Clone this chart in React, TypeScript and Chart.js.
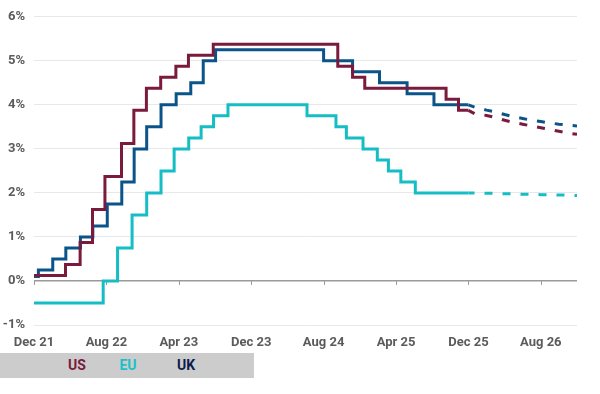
import React, { useEffect, useRef } from "react";
import { Chart, registerables } from "chart.js";

Chart.register(...registerables);

// ---- Data ----
const usDates = ["2021-12-01","2022-03-16","2022-05-04","2022-06-15","2022-07-27","2022-09-21","2022-11-02","2022-12-14","2023-02-01","2023-03-22","2023-05-03","2023-07-26","2024-09-18","2024-11-07","2024-12-18","2025-09-17","2025-10-29","2025-12-01"];
const usRates = [0.125,0.375,0.875,1.625,2.375,3.125,3.875,4.375,4.625,4.875,5.125,5.375,4.875,4.625,4.375,4.125,3.875,3.875];

const euDates = ["2021-12-01","2022-07-21","2022-09-08","2022-10-27","2022-12-15","2023-02-02","2023-03-16","2023-05-04","2023-06-15","2023-07-27","2023-09-14","2024-06-06","2024-09-12","2024-10-17","2024-12-12","2025-01-30","2025-03-06","2025-04-17","2025-06-05","2025-12-01"];
const euRates = [-0.5,0,0.75,1.5,2.0,2.5,3.0,3.25,3.5,3.75,4.0,3.75,3.5,3.25,3.0,2.75,2.5,2.25,2.0,2.0];

const ukDates = ["2021-12-01","2021-12-16","2022-02-03","2022-03-17","2022-05-05","2022-06-16","2022-08-04","2022-09-22","2022-11-03","2022-12-15","2023-02-02","2023-03-23","2023-05-11","2023-06-22","2023-08-03","2024-08-01","2024-11-07","2025-02-06","2025-05-08","2025-08-07","2025-12-01"];
const ukRates = [0.1,0.25,0.5,0.75,1.0,1.25,1.75,2.25,3.0,3.5,4.0,4.25,4.5,5.0,5.25,5.0,4.75,4.5,4.25,4.0,4.0];

// Market-implied forward paths
const fwdDates = ["2025-12-01","2025-12-22","2026-02-01","2026-03-01","2026-04-01","2026-05-01","2026-06-01","2026-07-01","2026-08-01","2026-09-01","2026-10-01","2026-11-01","2026-12-01"];
const usFwd = [3.875,3.80,3.76,3.71,3.65,3.60,3.56,3.52,3.48,3.44,3.40,3.36,3.33];
const euFwd = [2.0,2.0,1.99,1.99,1.98,1.98,1.97,1.97,1.96,1.96,1.95,1.95,1.94];
const ukFwd = [4.0,3.95,3.88,3.84,3.78,3.73,3.69,3.65,3.62,3.59,3.56,3.54,3.52];

const xTickDates = ["2021-12-01","2022-08-01","2023-04-01","2023-12-01","2024-08-01","2025-04-01","2025-12-01","2026-08-01"];
const xTickLabels = ["Dec 21","Aug 22","Apr 23","Dec 23","Aug 24","Apr 25","Dec 25","Aug 26"];
const xEndDate = "2026-12-01";
const yTicks = [-1, 0, 1, 2, 3, 4, 5, 6];

const seriesNames = ["US", "EU", "UK"];
const lineColors = ["#7a1a3c", "#15bdc4", "#0b5489"];
const legendColors = ["#7a1a3c", "#1cc0c8", "#0c1c4c"];

// months since Dec 2021
function toMonths(s: string): number {
  const [y, m, d] = s.split("-").map(Number);
  const dim = new Date(y, m, 0).getDate();
  return (y - 2021) * 12 + (m - 12) + (d - 1) / dim;
}
const pts = (dates: string[], vals: number[]) => dates.map((d, i) => ({ x: toMonths(d), y: vals[i] }));

const FONT = "Roboto, 'Liberation Sans', sans-serif";
const TEXT = "#5b5b5b";

export default function App() {
  const ref = useRef<HTMLCanvasElement>(null);
  useEffect(() => {
    document.body.style.margin = "0";
    const tickMonths = xTickDates.map(toMonths);
    const hist = [pts(usDates, usRates), pts(euDates, euRates), pts(ukDates, ukRates)];
    const fwd = [pts(fwdDates, usFwd), pts(fwdDates, euFwd), pts(fwdDates, ukFwd)];
    const datasets: any[] = [];
    [0, 1, 2].forEach((i) => {
      datasets.push({
        label: seriesNames[i],
        data: hist[i],
        borderColor: lineColors[i],
        borderWidth: 3,
        pointRadius: 0,
        stepped: "before",
        fill: false,
        borderJoinStyle: "miter",
      });
      datasets.push({
        label: seriesNames[i] + " fwd",
        data: fwd[i],
        borderColor: lineColors[i],
        borderWidth: 3,
        pointRadius: 0,
        fill: false,
        tension: 0,
        segment: {
          borderDash: (ctx: any) => (ctx.p0DataIndex < 1 ? [] : [8, 10]),
          borderDashOffset: (ctx: any) => (ctx.p0DataIndex < 1 ? 0 : 8),
        },
      });
    });

    const zeroTicks = {
      id: "zeroTicks",
      beforeDatasetsDraw(chart: any) {
        const { ctx, scales } = chart;
        const y0 = scales.y.getPixelForValue(0);
        ctx.save();
        ctx.strokeStyle = "#9a9a9a";
        ctx.lineWidth = 1;
        tickMonths.forEach((m) => {
          const px = Math.round(scales.x.getPixelForValue(m)) + 0.5;
          ctx.beginPath();
          ctx.moveTo(px, y0);
          ctx.lineTo(px, y0 + 4);
          ctx.stroke();
        });
        ctx.restore();
      },
    };

    const chart = new Chart(ref.current!, {
      type: "line",
      data: { datasets },
      options: {
        animation: false,
        responsive: true,
        maintainAspectRatio: false,
        layout: { padding: { top: 15, right: 23, left: 0, bottom: 0 } },
        plugins: { legend: { display: false }, tooltip: { enabled: false } },
        scales: {
          x: {
            type: "linear",
            min: 0,
            max: toMonths(xEndDate),
            grid: { display: false, drawTicks: false },
            border: { display: false },
            afterBuildTicks: (s: any) => {
              s.ticks = tickMonths.map((v) => ({ value: v }));
            },
            afterFit: (s: any) => {
              s.height = 27;
            },
            ticks: {
              autoSkip: false,
              maxRotation: 0,
              padding: 10,
              color: TEXT,
              font: { family: FONT, size: 13, weight: "bold" },
              callback: (v: any) => {
                const i = tickMonths.findIndex((m) => Math.abs(m - v) < 1e-6);
                return i >= 0 ? xTickLabels[i] : "";
              },
            },
          },
          y: {
            min: yTicks[0],
            max: yTicks[yTicks.length - 1],
            grid: {
              drawTicks: false,
              color: (c: any) => (c.tick && c.tick.value === 0 ? "#9a9a9a" : "#e8e8e8"),
              lineWidth: (c: any) => (c.tick && c.tick.value === 0 ? 1.5 : 1),
            },
            border: { display: false },
            afterBuildTicks: (s: any) => {
              s.ticks = yTicks.map((v) => ({ value: v }));
            },
            afterFit: (s: any) => {
              s.width = 34;
            },
            ticks: {
              padding: 9,
              color: TEXT,
              font: { family: FONT, size: 13, weight: "bold" },
              callback: (v: any) => `${v}%`,
            },
          },
        },
      },
      plugins: [zeroTicks],
    });
    return () => chart.destroy();
  }, []);

  return (
    <div style={{ position: "absolute", left: 0, top: 0, width: 600, height: 394 }}>
      <div style={{ position: "absolute", left: 0, top: 0, width: 600, height: 352 }}>
        <canvas ref={ref} />
      </div>
      <div
        style={{
          position: "absolute",
          left: 0,
          top: 353,
          width: 254,
          height: 25,
          background: "#cccccc",
          fontFamily: FONT,
          fontWeight: "bold",
          fontSize: 14,
        }}
      >
        {seriesNames.map((n, i) => (
          <span
            key={n}
            style={{
              position: "absolute",
              left: [77, 128, 186][i],
              top: 0,
              lineHeight: "25px",
              transform: "translateX(-50%)",
              color: legendColors[i],
            }}
          >
            {n}
          </span>
        ))}
      </div>
    </div>
  );
}
